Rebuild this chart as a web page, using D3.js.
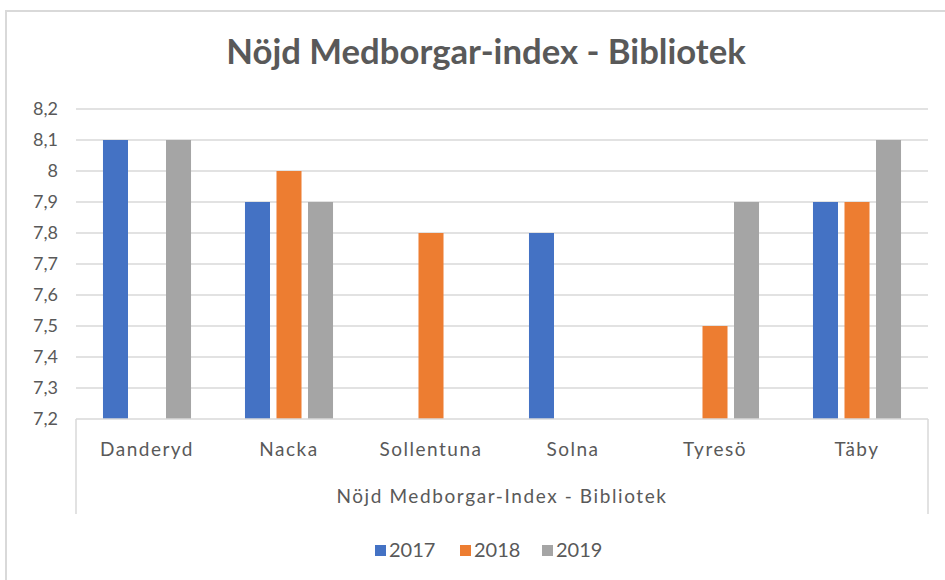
<!DOCTYPE html>
<html>
<head>
<meta charset="utf-8">
<script src="https://cdn.jsdelivr.net/npm/d3@7"></script>
<style>
  html, body { margin: 0; padding: 0; background: #fff; }
  svg { display: block; font-family: Lato, "Open Sans", sans-serif; }
</style>
</head>
<body>
<svg id="chart" width="945" height="580"></svg>
<script>
// ---- data ----
const categories = ["Danderyd", "Nacka", "Sollentuna", "Solna", "Tyresö", "Täby"];
const seriesNames = ["2017", "2018", "2019"];
const values2017 = [8.1, 7.9, null, 7.8, null, 7.9];
const values2018 = [null, 8.0, 7.8, null, 7.5, 7.9];
const values2019 = [8.1, 7.9, null, null, 7.9, 8.1];
const yTicks = [7.2, 7.3, 7.4, 7.5, 7.6, 7.7, 7.8, 7.9, 8.0, 8.1, 8.2];
const titleText = "Nöjd Medborgar-index - Bibliotek";
const axisTitleText = "Nöjd Medborgar-Index - Bibliotek";
const colors = ["#4472C4", "#ED7D31", "#A5A5A5"];

const seriesValues = [values2017, values2018, values2019];
const rows = [];
categories.forEach((c, i) => {
  seriesNames.forEach((s, j) => {
    const v = seriesValues[j][i];
    if (v !== null) rows.push({ cat: c, series: s, value: v, color: colors[j] });
  });
});

const svg = d3.select("#chart");
const textColor = "#595959";
const gridColor = "#D9D9D9";

// outer frame
svg.append("rect")
  .attr("x", 6).attr("y", 11).attr("width", 1000).attr("height", 700)
  .attr("fill", "none").attr("stroke", "#D9D9D9").attr("stroke-width", 2);

const plot = { left: 76, right: 928, top: 109, bottom: 419 };

const x0 = d3.scaleBand().domain(categories)
  .range([plot.left, plot.right]).paddingInner(0.38).paddingOuter(0.19);
const x1 = d3.scaleBand().domain(seriesNames)
  .range([0, x0.bandwidth()]).paddingInner(0.206);
const y = d3.scaleLinear().domain([7.2, 8.2]).range([plot.bottom, plot.top]);

const locale = d3.formatLocale({ decimal: ",", thousands: " ", grouping: [3], currency: ["", " kr"] });
const fmt = locale.format("~g");

// gridlines
svg.append("g").selectAll("line").data(yTicks.slice(1)).join("line")
  .attr("x1", plot.left).attr("x2", plot.right)
  .attr("y1", d => y(d)).attr("y2", d => y(d))
  .attr("stroke", gridColor).attr("stroke-width", 1.5);

// y axis labels
const yAxis = d3.axisLeft(y).tickValues(yTicks).tickFormat(fmt).tickSize(0).tickPadding(18);
const gy = svg.append("g").attr("transform", `translate(${plot.left},0)`).call(yAxis);
gy.select(".domain").remove();
gy.selectAll("text").attr("fill", textColor).style("font-size", "18px")
  .style("font-family", "Lato, sans-serif");

// bars
svg.append("g").selectAll("rect").data(rows).join("rect")
  .attr("x", d => x0(d.cat) + x1(d.series))
  .attr("width", x1.bandwidth())
  .attr("y", d => y(d.value))
  .attr("height", d => y(7.2) - y(d.value))
  .attr("fill", d => d.color);

// category box
const boxBottom = 514;
const box = svg.append("g").attr("stroke", gridColor).attr("stroke-width", 1.5).attr("fill", "none");
box.append("line").attr("x1", plot.left).attr("x2", plot.right).attr("y1", plot.bottom).attr("y2", plot.bottom);
box.append("line").attr("x1", plot.left).attr("x2", plot.left).attr("y1", plot.bottom).attr("y2", boxBottom);
box.append("line").attr("x1", plot.right).attr("x2", plot.right).attr("y1", plot.bottom).attr("y2", boxBottom);

// category labels
const xAxis = d3.axisBottom(x0).tickSize(0).tickPadding(24);
const gx = svg.append("g").attr("transform", `translate(0,${plot.bottom})`).call(xAxis);
gx.select(".domain").remove();
gx.selectAll("text").attr("fill", textColor).style("font-size", "19px")
  .style("letter-spacing", "1.5px")
  .style("font-family", "Lato, sans-serif");

// axis title
svg.append("text").attr("x", (plot.left + plot.right) / 2).attr("y", 503)
  .attr("text-anchor", "middle").attr("fill", textColor)
  .style("font-size", "19px").style("letter-spacing", "1.6px").text(axisTitleText);

// chart title
svg.append("text").attr("x", 486).attr("y", 64)
  .attr("text-anchor", "middle").attr("fill", textColor)
  .style("font-size", "34.7px").style("font-weight", "bold").text(titleText);

// legend
const legendX = [375, 460, 542];
const lg = svg.append("g").selectAll("g").data(seriesNames).join("g")
  .attr("transform", (d, i) => `translate(${legendX[i]},544)`);
lg.append("rect").attr("width", 11).attr("height", 11).attr("y", 1)
  .attr("fill", (d, i) => colors[i]);
lg.append("text").attr("x", 14).attr("y", 13).attr("fill", textColor)
  .style("font-size", "20px").text(d => d);
</script>
</body>
</html>
